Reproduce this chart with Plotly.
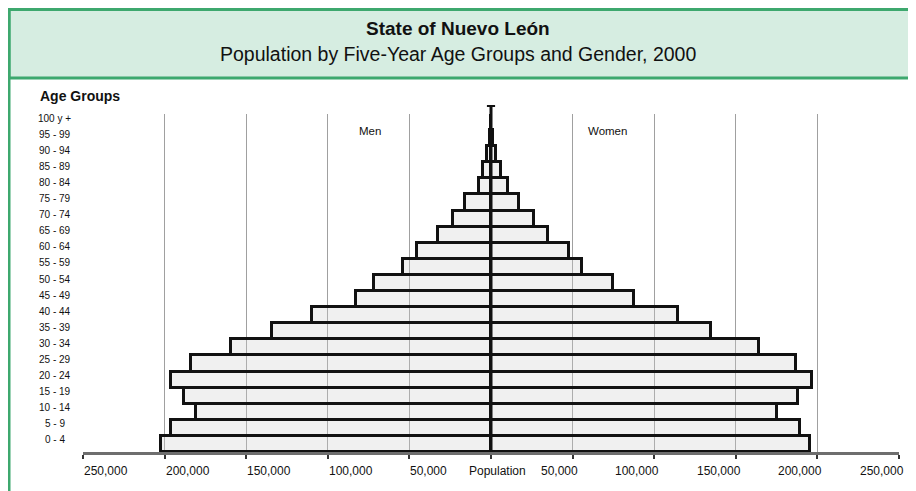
import plotly.graph_objects as go

# ---------------- data ----------------
age_groups = ["0 - 4", "5 - 9", "10 - 14", "15 - 19", "20 - 24", "25 - 29", "30 - 34",
              "35 - 39", "40 - 44", "45 - 49", "50 - 54", "55 - 59", "60 - 64", "65 - 69",
              "70 - 74", "75 - 79", "80 - 84", "85 - 89", "90 - 94", "95 - 99", "100 y +"]
men = [202000, 196000, 181000, 188000, 196000, 184000, 159500, 134500, 109500, 82500,
       72000, 54000, 45500, 32500, 23300, 15700, 7400, 5100, 2300, 900, 200]
women = [195500, 189500, 175500, 188000, 196500, 187000, 164000, 135000, 114500, 87500,
         74500, 56000, 48000, 34800, 26600, 17400, 10200, 6100, 3000, 1200, 300]
tick_values = [-250000, -200000, -150000, -100000, -50000, 0, 50000, 100000, 150000, 200000, 250000]
tick_labels = ["250,000", "200,000", "150,000", "100,000", "50,000", "Population",
               "50,000", "100,000", "150,000", "200,000", "250,000"]

FONT = "Arial, Liberation Sans, sans-serif"
OFF = 8  # page body margin
W, H = 916 - OFF, 491 - OFF
# plot area in page pixels: x 83..899, y 114..452
ML, MR, MT, MB = 83 - OFF, 916 - 899, 114 - OFF, 491 - 452
PW, PH = W - ML - MR, H - MT - MB


def px(xp):
    return (xp - OFF - ML) / PW


def py(yp):
    return (H - MB - (yp - OFF)) / PH


GREEN = "#3da86e"
FILL_GREEN = "#d6ede1"

fig = go.Figure()
bar_style = dict(orientation="h", marker=dict(color="rgba(205,205,205,0.3)",
                                              line=dict(color="#111111", width=3)),
                 hoverinfo="skip", showlegend=False)
fig.add_trace(go.Bar(y=age_groups, x=[-v for v in men], name="Men", **bar_style))
fig.add_trace(go.Bar(y=age_groups, x=women, name="Women", **bar_style))

fig.update_layout(
    width=W, height=H,
    margin=dict(l=ML, r=MR, t=MT, b=MB),
    paper_bgcolor="white", plot_bgcolor="white",
    barmode="overlay", bargap=0,
    font=dict(family=FONT, color="#111111"),
    xaxis=dict(range=[-250000, 250000], tickvals=tick_values, showticklabels=False,
               showgrid=True, gridcolor="#a0a0a0", gridwidth=1, zeroline=False,
               showline=True, linecolor="#6e6e6e", linewidth=3,
               ticks="outside", ticklen=4, tickwidth=2, tickcolor="#333333"),
    yaxis=dict(type="category", categoryorder="array", categoryarray=age_groups,
               range=[-0.5, len(age_groups) - 0.5], showticklabels=False,
               showgrid=False, zeroline=False, showline=False),
)

shapes = [
    # title box
    dict(type="rect", xref="paper", yref="paper", x0=px(9), x1=px(920), y0=py(78), y1=py(9.5),
         fillcolor=FILL_GREEN, line=dict(color=GREEN, width=3), layer="below"),
    # left green border
    dict(type="line", xref="paper", yref="paper", x0=px(9), x1=px(9), y0=py(494), y1=py(8),
         line=dict(color=GREEN, width=3)),
    # center line with cap
    dict(type="line", xref="x", yref="paper", x0=0, x1=0, y0=0, y1=py(106),
         line=dict(color="#111111", width=3)),
    dict(type="line", xref="x", yref="paper", x0=-2500, x1=2500, y0=py(106), y1=py(106),
         line=dict(color="#111111", width=2)),
]
fig.update_layout(shapes=shapes)

ann = []
ann.append(dict(text="<b>State of Nuevo León</b>", xref="paper", yref="paper", x=px(458), y=py(29),
                showarrow=False, font=dict(size=19, family=FONT, color="#111111"),
                xanchor="center", yanchor="middle"))
ann.append(dict(text="Population by Five-Year Age Groups and Gender, 2000", xref="paper", yref="paper",
                x=px(458), y=py(54), showarrow=False, font=dict(size=19.5, family=FONT, color="#111111"),
                xanchor="center", yanchor="middle"))
ann.append(dict(text="<b>Age Groups</b>", xref="paper", yref="paper", x=px(38), y=py(96),
                showarrow=False, font=dict(size=14, family=FONT, color="#111111"),
                xanchor="left", yanchor="middle"))
ann.append(dict(text="Men", xref="paper", yref="paper", x=px(370), y=py(131), showarrow=False,
                font=dict(size=11.5, family=FONT, color="#111111"), xanchor="center", yanchor="middle"))
ann.append(dict(text="Women", xref="paper", yref="paper", x=px(607), y=py(131), showarrow=False,
                font=dict(size=11.5, family=FONT, color="#111111"), xanchor="center", yanchor="middle"))
for g in age_groups:
    ann.append(dict(text=g, xref="paper", yref="y", x=px(54.5), y=g, yshift=4, showarrow=False,
                    font=dict(size=10, family=FONT, color="#111111"),
                    xanchor="center", yanchor="middle"))
for v, t in zip(tick_values, tick_labels):
    if v < 0:
        a = dict(xanchor="left", xshift=-1)
    elif v == 0:
        a = dict(xanchor="center", xshift=6)
    else:
        a = dict(xanchor="right", xshift=7)
    ann.append(dict(text=t, xref="x", yref="paper", x=v, y=py(471), showarrow=False,
                    font=dict(size=12, family=FONT, color="#111111"), yanchor="middle", **a))
fig.update_layout(annotations=ann)

fig.write_html("out.html")
